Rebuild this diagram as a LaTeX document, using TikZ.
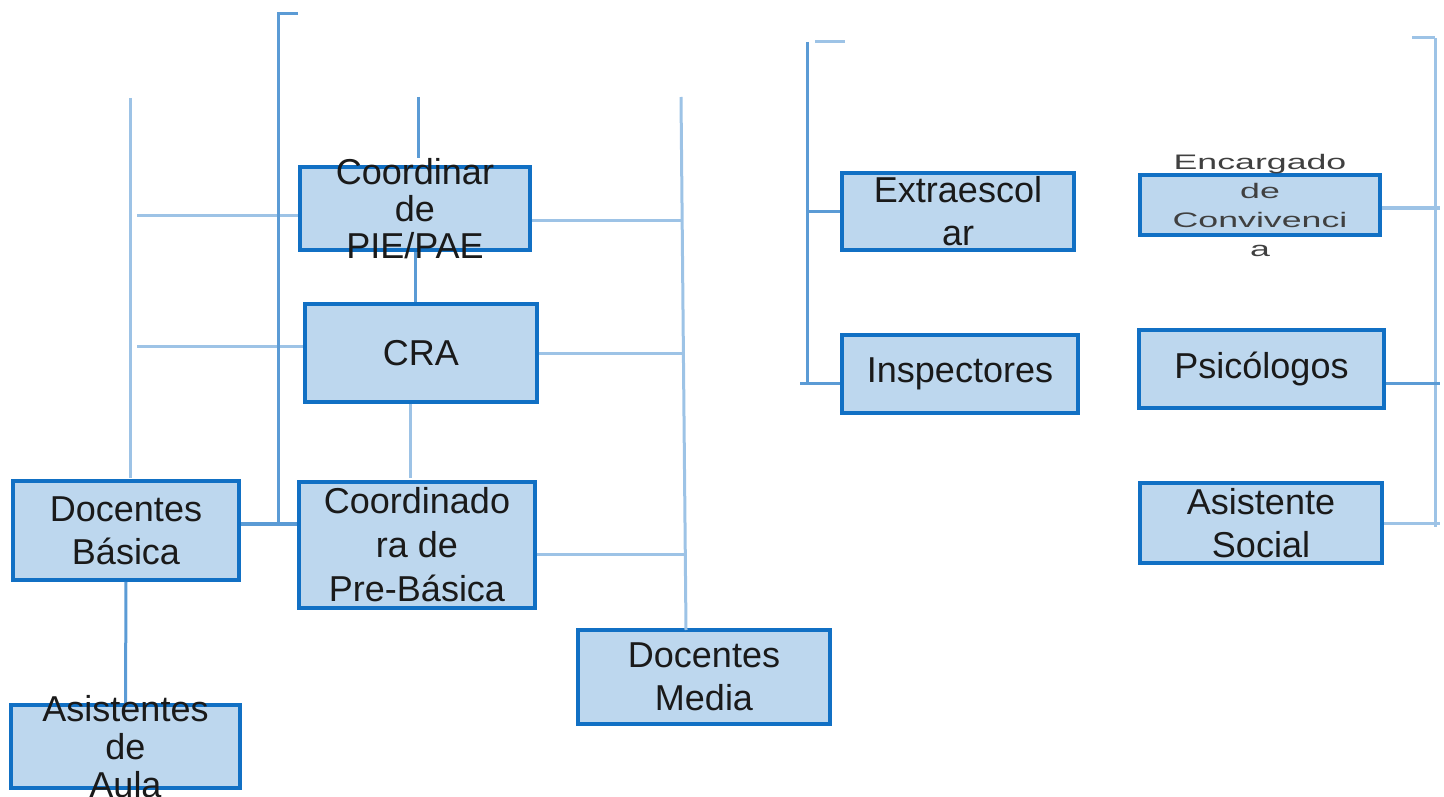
\documentclass[tikz,border=0pt]{standalone}
\usepackage{fontspec}
\setmainfont{Liberation Sans}
\newfontfamily\widefont[FakeStretch=1.7]{Liberation Sans}
\definecolor{boxfill}{HTML}{BDD7EE}
\definecolor{boxline}{HTML}{1170C4}
\definecolor{lightline}{HTML}{9DC3E6}
\definecolor{midline}{HTML}{5B9BD5}
\definecolor{ink}{HTML}{1A1A1A}
\tikzset{
  box/.style={draw=boxline,fill=boxfill,line width=3.5pt,inner sep=0pt},
  txt/.style={align=center,inner sep=0pt,text=ink,font=\fontsize{36}{#1}\selectfont},
  txt/.default=43,
  light/.style={draw=lightline,line width=3pt},
  mid/.style={draw=midline,line width=3pt}
}
\begin{document}
\begin{tikzpicture}[x=1pt,y=-1pt]
\useasboundingbox (0,0) rectangle (1444,797);
\coordinate (A) at (130,98);
\coordinate (B) at (130,478);
\coordinate (C) at (137,215);
\coordinate (D) at (137,346);
\coordinate (E) at (278,524);
\coordinate (F) at (298,14);
\coordinate (G) at (278,14);
\coordinate (H) at (418,97);
\coordinate (I) at (418,158);
\coordinate (K) at (410,478);
\coordinate (L) at (681,97);
\coordinate (M) at (686,630);
\coordinate (N) at (681,220);
\coordinate (O) at (684,353);
\coordinate (P) at (686,554);
\coordinate (Q) at (808,211);
\coordinate (QQ) at (807,42);
\coordinate (QT) at (815,42);
\coordinate (QU) at (845,42);
\coordinate (R) at (800,383);
\coordinate (RR) at (807,383);
\coordinate (S) at (1440,208);
\coordinate (SS) at (1435,38);
\coordinate (ST) at (1412,38);
\coordinate (SU) at (1435,527);
\coordinate (T) at (1440,383);
\coordinate (U) at (1440,523);
% cajas
\node[box,minimum width=230,minimum height=83] (pie) at (415,208.5) {};
\node[box,minimum width=232,minimum height=98] (cra) at (421,353) {};
\node[box,minimum width=236,minimum height=126] (pre) at (417,545) {};
\node[box,minimum width=226,minimum height=99] (basica) at (126,530.5) {};
\node[box,minimum width=229,minimum height=83] (aula) at (125.5,746.5) {};
\node[box,minimum width=252,minimum height=94] (media) at (704,677) {};
\node[box,minimum width=232,minimum height=77] (extra) at (958,211.5) {};
\node[box,minimum width=236,minimum height=78] (insp) at (960,374) {};
\node[box,minimum width=240,minimum height=60] (conv) at (1260,205) {};
\node[box,minimum width=245,minimum height=78] (psico) at (1261.5,369) {};
\node[box,minimum width=242,minimum height=80] (social) at (1261,523) {};
% lineas
\foreach \a/\b in {A/B,L/M,QT/QU,ST/SS,SS/SU}
	\draw[light] (\a)--(\b);
\draw[light] (C)--(C -| pie.west);
\draw[light] (D)--(D -| cra.west);
\draw[light] (K |- cra.south)--(K);
\draw[light] (pie.east |- N)--(N);
\draw[light] (cra.east |- O)--(O);
\draw[light] (pre.east |- P)--(P);
\draw[light] (conv.east |- S)--(S);
\draw[light] (social.east |- U)--(U);
\draw[mid] (F)--(G)--(E);
\draw[mid,line width=4pt] (basica.east |- E)--(pre.west |- E);
\draw[mid] (H)--(I);
\draw[mid] (pie.south)--(pie.south |- cra.north);
\draw[mid] (basica.south)--(aula.north);
\draw[mid] (QQ)--(RR);
\draw[mid] (Q)--(Q -| extra.west);
\draw[mid] (R)--(R -| insp.west);
\draw[mid] (psico.east |- T)--(T);
% textos
\node[txt=37] at (pie) {Coordinar\\de\\PIE/PAE};
\node[txt] at (cra) {CRA};
\node[txt=44] at (pre) {Coordinado\\ra de\\Pre-Básica};
\node[txt] at (basica) {Docentes\\Básica};
\node[txt=38] at (aula) {Asistentes\\de\\Aula};
\node[txt] at (media) {Docentes\\Media};
\node[txt] at (extra) {Extraescol\\ar};
\node[txt] at (insp) {Inspectores};
\node[txt,text=black!75,font=\widefont\fontsize{21}{29}\selectfont] at (conv) {Encargado\\de\\Convivenci\\a};
\node[txt] at (psico) {Psicólogos};
\node[txt] at (social) {Asistente\\Social};
\end{tikzpicture}
\end{document}
